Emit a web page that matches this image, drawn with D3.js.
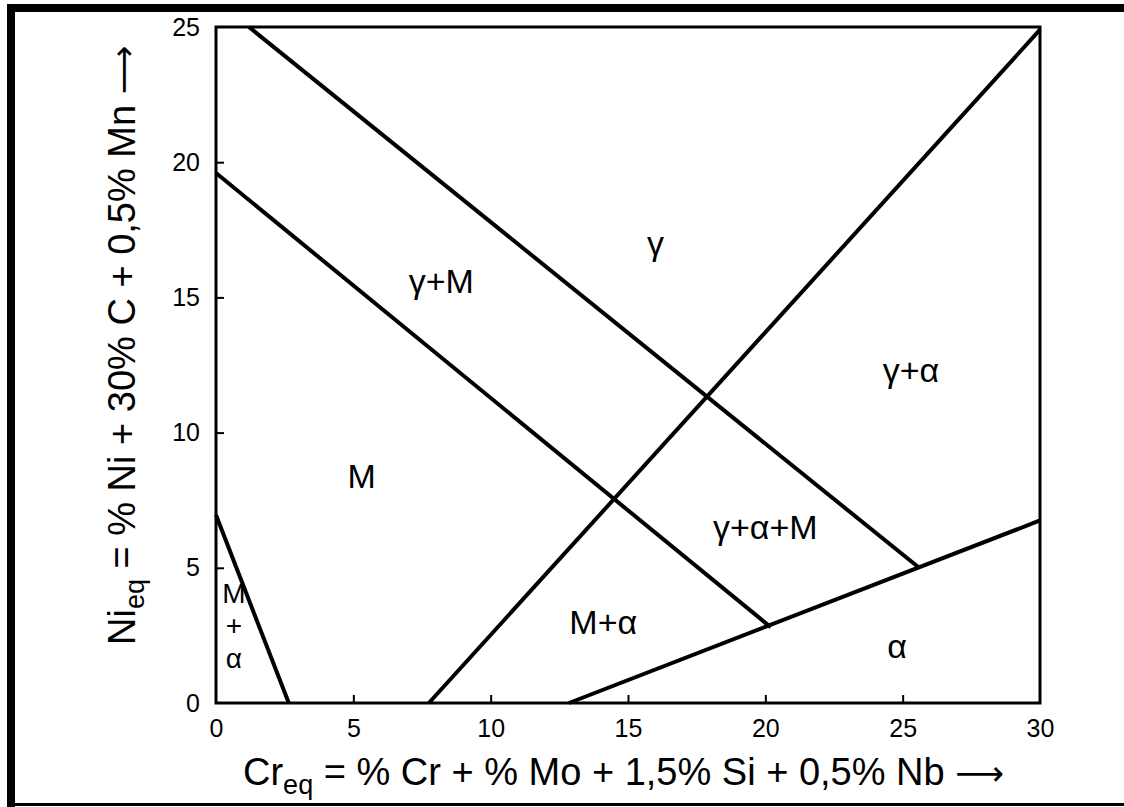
<!DOCTYPE html>
<html>
<head>
<meta charset="utf-8">
<script src="https://cdn.jsdelivr.net/npm/d3@7"></script>
<style>
  html, body { margin: 0; padding: 0; background: #fff; }
  svg { display: block; }
  text { font-family: "Liberation Sans", Arial, sans-serif; fill: #000; }
</style>
</head>
<body>
<svg id="chart" width="1124" height="807"></svg>
<script>
// Schaeffler-type constitution diagram: phase boundaries in (Cr_eq, Ni_eq) space
const creqTicks = [0, 5, 10, 15, 20, 25, 30];
const nieqTicks = [0, 5, 10, 15, 20, 25];

// phase boundary lines, each as [Cr_eq, Ni_eq] points
const gammaLimit      = [[1.2, 25.0], [25.6, 5.0]];   // γ  | γ+M , γ+α | γ+α+M
const martensiteLimit = [[0.0, 19.6], [20.2, 2.8]];   // γ+M | M , γ+α+M | M+α
const ferriteStart    = [[7.75, 0.0], [30.0, 24.9]];  // M | M+α , γ | γ+α
const ferriteLimit    = [[12.85, 0.0], [30.0, 6.75]]; // α region
const mAlphaCorner    = [[0.0, 6.95], [2.65, 0.0]];   // M+α corner

// phase field labels and their anchor points
const phaseNames = ["γ", "γ+M", "γ+α", "M", "γ+α+M", "M+α", "α"];
const phaseCr    = [16.0, 8.2, 25.3, 5.3, 20.0, 14.1, 24.8];
const phaseNi    = [16.9, 15.5, 12.2, 8.3, 6.4, 2.9, 2.0];
const cornerStack = ["M", "+", "α"];
const cornerNi    = [3.96, 2.77, 1.58];

const svg = d3.select("#chart");

// outer frame
svg.append("line").attr("x1", 7).attr("x2", 1124).attr("y1", 8).attr("y2", 8)
  .attr("stroke", "#000").attr("stroke-width", 8);
svg.append("line").attr("x1", 11).attr("x2", 11).attr("y1", 4).attr("y2", 807)
  .attr("stroke", "#000").attr("stroke-width", 8);
svg.append("line").attr("x1", 7).attr("x2", 1124).attr("y1", 804.5).attr("y2", 804.5)
  .attr("stroke", "#000").attr("stroke-width", 3);

const x = d3.scaleLinear().domain([0, 30]).range([216, 1040]);
const y = d3.scaleLinear().domain([0, 25]).range([703, 27]);

const g = svg.append("g");

// plot box
g.append("rect")
  .attr("x", x(0)).attr("y", y(25))
  .attr("width", x(30) - x(0)).attr("height", y(0) - y(25))
  .attr("fill", "none").attr("stroke", "#000").attr("stroke-width", 3);

// axes with short inward ticks
const xAxis = d3.axisBottom(x).tickValues(creqTicks).tickSize(-8).tickPadding(20)
  .tickFormat(d3.format("d"));
const yAxis = d3.axisLeft(y).tickValues(nieqTicks).tickSize(-8).tickPadding(16)
  .tickFormat(d3.format("d"));

const gx = g.append("g").attr("transform", `translate(0,${y(0)})`).call(xAxis);
const gy = g.append("g").attr("transform", `translate(${x(0)},0)`).call(yAxis);
[gx, gy].forEach(a => {
  a.attr("font-size", null).attr("font-family", null);
  a.select(".domain").remove();
  a.selectAll(".tick line").attr("stroke", "#000").attr("stroke-width", 2);
  a.selectAll(".tick text").style("font-size", "25px").attr("fill", "#000");
});
gx.selectAll(".tick text").attr("dy", "0.55em");
gy.selectAll(".tick line").filter(d => d === 0 || d === 25).remove();
gx.selectAll(".tick line").filter(d => d === 0 || d === 30).remove();

// boundary lines
const line = d3.line().x(d => x(d[0])).y(d => y(d[1]));
[gammaLimit, martensiteLimit, ferriteStart, ferriteLimit, mAlphaCorner].forEach(pts => {
  g.append("path").attr("d", line(pts))
    .attr("fill", "none").attr("stroke", "#000")
    .attr("stroke-width", 4).attr("stroke-linecap", "butt");
});

// phase field labels
phaseNames.forEach((name, i) => {
  g.append("text")
    .attr("x", x(phaseCr[i])).attr("y", y(phaseNi[i]))
    .attr("text-anchor", "middle").attr("dominant-baseline", "middle")
    .style("font-size", "34px")
    .text(name);
});
cornerStack.forEach((s, i) => {
  g.append("text")
    .attr("x", x(0.65)).attr("y", y(cornerNi[i]))
    .attr("text-anchor", "middle").attr("dominant-baseline", "middle")
    .style("font-size", "28px")
    .text(s);
});

// axis titles
const xt = svg.append("text")
  .attr("x", 243).attr("y", 785)
  .style("font-size", "38px");
xt.append("tspan").text("Cr");
xt.append("tspan").attr("dy", 9).style("font-size", "27px").text("eq");
xt.append("tspan").attr("dy", -9).text(" = % Cr + % Mo + 1,5% Si + 0,5% Nb ");
xt.append("tspan").style("font-family", "'DejaVu Sans', sans-serif").style("font-size", "34px").text("⟶");

const yt = svg.append("text")
  .attr("transform", "translate(135,645) rotate(-90)")
  .style("font-size", "38px");
yt.append("tspan").text("Ni");
yt.append("tspan").attr("dy", 9).style("font-size", "27px").text("eq");
yt.append("tspan").attr("dy", -9).text(" = % Ni + 30% C + 0,5% Mn ");
yt.append("tspan").style("font-family", "'DejaVu Sans', sans-serif").style("font-size", "34px").text("⟶");
</script>
</body>
</html>
